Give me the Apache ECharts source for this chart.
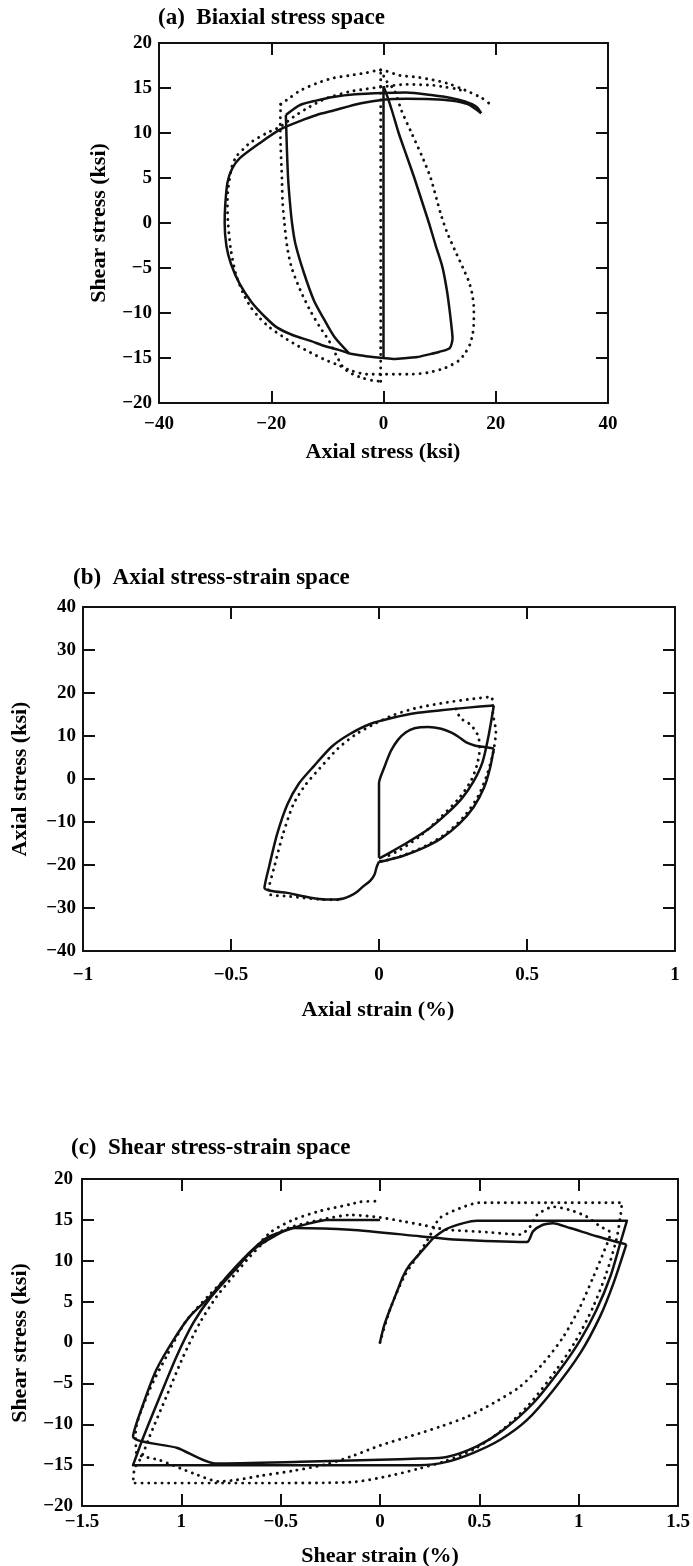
<!DOCTYPE html>
<html>
<head>
<meta charset="utf-8">
<script src="https://cdn.jsdelivr.net/npm/echarts@6/dist/echarts.min.js"></script>
<style>
html,body{margin:0;padding:0;background:#fff;}
#chart{width:693px;height:1566px;}
</style>
</head>
<body>
<div id="chart"></div>
<script>
// ---------- tick labels ----------
const aXTicks = ["\u221240","\u221220","0","20","40"];
const aYTicks = ["\u221220","\u221215","\u221210","\u22125","0","5","10","15","20"];
const bXTicks = ["\u22121","\u22120.5","0","0.5","1"];
const bYTicks = ["\u221240","\u221230","\u221220","\u221210","0","10","20","30","40"];
const cXTicks = ["\u22121.5","1","\u22120.5","0","0.5","1","1.5"];
const cYTicks = ["\u221220","\u221215","\u221210","\u22125","0","5","10","15","20"];

// ---------- (a) biaxial stress space: [axial stress, shear stress] ----------
const aSolidVert = [[0,-15],[0,15.2]];
const aSolidDiag = [[0,15.2],[0.6,14.2],[1.5,12.5],[2.7,10],[4.1,7.5],[5.5,5],[6.8,2.5],[8.1,0],[9.3,-2.5],[10.5,-4.9],[11.3,-7.5],[11.8,-9.8],[12.2,-12],[12.3,-12.8],[11.8,-13.9],[10,-14.3],[8.1,-14.6],[6,-14.9],[4.2,-15],[2,-15.1],[0,-15],[-3.1,-14.8],[-6.1,-14.5]];
const aSolidInner = [[-6.1,-14.5],[-8.7,-12.7],[-10.5,-10.8],[-12.4,-8.6],[-14.2,-5.5],[-15.7,-2.3],[-16.3,0],[-16.7,2.5],[-17,5],[-17.2,8],[-17.3,10],[-17.4,12]];
const aSolidUpper = [[-17.4,12],[-14.9,13.1],[-12,13.6],[-9,14.0],[-5,14.3],[0,14.45],[4,14.5],[8.8,14.2],[12,13.9],[14.5,13.5],[16.6,12.9],[17.4,12.2]];
const aSolidOuter = [[17.4,12.2],[15,13.2],[12,13.6],[8.8,13.75],[4,13.8],[0,13.7],[-4,13.3],[-8.9,12.5],[-11.9,12],[-15,11.3],[-18.4,10.4],[-22,8.9],[-25.6,7.2],[-27,6],[-27.8,4.5],[-28.2,2],[-28.3,0],[-28,-2.5],[-27.2,-4.5],[-25.6,-6.8],[-23.5,-8.8],[-21,-10.5],[-19,-11.6],[-16,-12.5],[-13,-13.1],[-10.4,-13.7],[-8,-14.1],[-6.1,-14.5]];
const aDotVert = [[-0.5,-17.6],[-0.5,17.0]];
const aDotMain = [[-0.5,17.0],[0.5,15.8],[1.9,14.8],[3.2,12.5],[5,10],[6.8,7.5],[8.4,5],[10.2,1],[11.3,-1],[12.7,-3],[14.1,-4.9],[15.2,-6.5],[15.8,-7.9],[16.1,-9.5],[16.1,-10.9],[15.9,-12.3],[15.4,-13.5],[14.5,-14.5],[13.4,-15.3],[11,-16.1],[8.1,-16.6],[5,-16.8],[2.8,-16.8],[0,-16.8],[-3,-16.8],[-5.8,-16.4],[-8,-15.8],[-10.4,-15.2],[-13,-14.4],[-15.7,-13.5],[-18,-12.6],[-20.3,-11.6],[-22,-10.6],[-23.6,-9.4],[-25,-7.8],[-26.3,-5.7],[-27.2,-3],[-27.7,0],[-27.8,2],[-27.7,3.7],[-27,6.3],[-26.2,7.4],[-25,8.2],[-23.8,8.9],[-20.8,10],[-18.4,10.7],[-16,11.8],[-14,12.6],[-12,13.3],[-10,13.9],[-6,14.6],[-3,14.9],[-0.6,15.1],[4.1,15.4],[8.8,15.3],[11,15.1],[13,14.9],[14.5,14.6]];
const aDotOuterTop = [[-18.3,13.2],[-16.5,14.0],[-14.9,14.7],[-12,15.5],[-9,16.1],[-6,16.4],[-3,16.7],[-0.5,17.0],[2.9,16.4],[6,16.2],[8.8,15.9],[11.5,15.5],[13.6,15],[15.5,14.5],[17.5,13.9],[18.8,13.3]];
const aDotInnerLeft = [[-18.3,13.2],[-18.4,10.7],[-18.3,8.1],[-18.1,5],[-18,2.5],[-17.7,0.3],[-17.2,-2.5],[-16.4,-4.9],[-14.8,-7.5],[-13,-9.8],[-11.3,-11.6],[-9.7,-13.1],[-8.5,-14.6],[-7.1,-16.1],[-5.5,-16.8],[-3.8,-17.2],[-2,-17.5],[-0.5,-17.6]];

// ---------- (b) axial stress-strain: [axial strain %, axial stress] ----------
const bSolidInner = [[0,-18.3],[0,-1],[0.019,2.9],[0.04,6.5],[0.064,9.1],[0.09,10.8],[0.12,11.8],[0.166,12.1],[0.21,11.7],[0.245,10.8],[0.267,9.9],[0.295,8.5],[0.323,7.8],[0.35,7.5],[0.388,7.1]];
const bSolidRight = [[0.388,7.1],[0.375,2.5],[0.355,-2],[0.32,-6.5],[0.27,-10.5],[0.21,-13.8],[0.15,-16],[0.08,-17.9],[0.02,-19],[0,-19.2]];
const bSolidMain = [[0,-19.2],[-0.008,-20.5],[-0.015,-22.2],[-0.03,-23.7],[-0.052,-24.9],[-0.075,-26.3],[-0.097,-27.2],[-0.12,-27.8],[-0.142,-28],[-0.18,-28],[-0.231,-27.6],[-0.3,-26.6],[-0.387,-25.3],[-0.37,-20],[-0.345,-13],[-0.31,-6],[-0.27,-1],[-0.22,3],[-0.16,7.5],[-0.1,10.4],[-0.03,12.8],[0.05,14.3],[0.12,15.3],[0.21,16.0],[0.3,16.6],[0.388,17.1]];
const bSolidBack = [[0.388,17.1],[0.37,10],[0.35,4],[0.32,-0.5],[0.28,-4.5],[0.23,-8],[0.17,-11.5],[0.1,-14.6],[0.04,-17],[0,-18.5]];
const bDotMain = [[-0.14,-28.1],[-0.2,-28],[-0.3,-27.3],[-0.375,-26.5],[-0.352,-20],[-0.325,-13],[-0.29,-6],[-0.25,-1.5],[-0.2,2.5],[-0.14,7],[-0.08,10.3],[-0.01,13],[0.05,14.9],[0.12,16.4],[0.21,17.6],[0.3,18.5],[0.38,19.1],[0.385,15],[0.395,11],[0.385,6],[0.365,1],[0.335,-4],[0.29,-8.5],[0.23,-12.5],[0.16,-15.5],[0.08,-17.8],[0.02,-19],[0,-19.3]];
const bDotInner = [[0.26,16.3],[0.276,14.1],[0.31,12.6],[0.335,10],[0.34,7],[0.33,3],[0.31,-0.5],[0.27,-4.5],[0.21,-8.8],[0.14,-13.2],[0.073,-16.4],[0.02,-18.2]];

// ---------- (c) shear stress-strain: [shear strain %, shear stress] ----------
const cSolidPath1 = [[0,0],[0.02,2],[0.051,4.1],[0.085,6.2],[0.118,8.2],[0.15,9.5],[0.2,10.9],[0.24,12],[0.27,12.8],[0.336,13.9],[0.42,14.6],[0.487,14.9],[0.8,14.9],[1.243,14.9],[1.21,12.2],[1.16,8.1],[1.09,4.0],[1.008,0.3],[0.907,-3.3],[0.772,-7.4],[0.62,-10.7],[0.487,-12.7],[0.336,-14.0],[0.2,-14.2],[0,-14.35],[-0.4,-14.6],[-0.83,-14.8],[-1.02,-12.9],[-1.243,-11.5],[-1.19,-7.4],[-1.125,-3.3],[-1.04,0.3],[-0.957,3.2],[-0.856,5.6],[-0.77,8.1],[-0.67,10.7],[-0.57,12.8],[-0.437,14.0],[-0.35,14.6],[-0.27,15.0],[0,15.0]];
const cSolidPath2 = [[1.24,12.0],[1.176,7.3],[1.108,3.2],[1.008,-1.3],[0.873,-5.8],[0.739,-9.5],[0.605,-11.9],[0.47,-13.5],[0.336,-14.6],[0.2,-15.0],[-0.5,-15.0],[-1.243,-15.0],[-1.19,-11.5],[-1.108,-6.6],[-1.024,-1.7],[-0.94,2.4],[-0.856,5.4],[-0.722,9.1],[-0.64,11.3],[-0.54,12.9],[-0.437,14.0],[-0.15,13.8],[0.2,13.0],[0.37,12.6],[0.74,12.3],[0.77,13.6],[0.82,14.4],[0.87,14.6],[0.957,14.0],[1.09,13.0],[1.24,12.0]];
const cDotPath = [[0,0],[0.05,4],[0.12,8],[0.2,11],[0.25,13],[0.3,15.2],[0.4,16.4],[0.5,17.1],[0.8,17.1],[1.218,17.1],[1.21,15.4],[1.19,12.6],[1.14,8.5],[1.07,4.2],[0.985,0.2],[0.88,-3.6],[0.75,-7.6],[0.61,-10.8],[0.47,-13.1],[0.33,-14.5],[0.2,-15.4],[0.05,-16.3],[-0.15,-17.1],[-0.6,-17.2],[-1.243,-17.2],[-1.235,-15.4],[-1.2,-14],[-1.16,-11.5],[-1.075,-6.6],[-0.99,-1.7],[-0.907,2.4],[-0.823,5.6],[-0.739,8.1],[-0.655,10.5],[-0.59,12.1],[-0.5,13.6],[-0.437,14.2],[-0.3,15.0],[-0.15,15.6],[0,15.3],[0.12,14.8],[0.23,14.3],[0.336,13.8],[0.537,13.5],[0.705,13.2],[0.756,14.2],[0.79,15.6],[0.873,16.6],[0.957,16.2],[1.04,15.4],[1.108,14.2],[1.16,13.4],[1.13,11.3],[1.075,8.1],[1.008,4.4],[0.923,0.7],[0.823,-2.5],[0.705,-5.4],[0.571,-7.4],[0.437,-9.1],[0.302,-10.3],[0.2,-11.1],[0,-12.6],[-0.13,-13.8],[-0.27,-14.9],[-0.44,-15.7],[-0.6,-16.3],[-0.72,-16.8],[-0.81,-17.0],[-0.94,-16.0],[-1.108,-14.4],[-1.226,-13.5],[-1.23,-11],[-1.16,-5.8],[-1.075,-1.7],[-0.98,2.5],[-0.86,5.8],[-0.75,8.5],[-0.65,11],[-0.55,13.5],[-0.437,15.0],[-0.3,16.1],[-0.15,16.9],[-0.1,17.2],[0,17.3]];

// ---------- build ----------
const FONT = '"Liberation Serif", "Times New Roman", serif';
const grids = [
  {left:159, width:449, top:43, height:360},
  {left:83, width:592, top:607, height:344},
  {left:82, width:596, top:1179, height:327}
];
const axisDefs = [
  {x:[-40,40,20,aXTicks,12], y:[-20,20,5,aYTicks,7]},
  {x:[-1,1,0.5,bXTicks,15], y:[-40,40,10,bYTicks,7]},
  {x:[-1.5,1.5,0.5,cXTicks,7], y:[-20,20,5,cYTicks,9]}
];
const xAxes = [], yAxes = [];
const lineCol = '#111';
function axisBase(gi, mn, mx, iv, pos, labels, margin){
  return {
    type:'value', gridIndex:gi, min:mn, max:mx, interval:iv, position:pos,
    axisLine:{show:true, onZero:false, lineStyle:{color:lineCol, width:2}},
    axisTick:{show:true, inside:true, length:12, lineStyle:{color:lineCol, width:2}},
    splitLine:{show:false},
    axisLabel:{
      show: !!labels, margin: margin || 8, color:'#000', fontFamily:FONT, fontWeight:'bold', fontSize:19,
      showMinLabel:true, showMaxLabel:true, hideOverlap:false,
      formatter: labels ? (v => labels[Math.round((v - mn) / iv)]) : undefined
    }
  };
}
axisDefs.forEach((d, gi) => {
  xAxes.push(axisBase(gi, d.x[0], d.x[1], d.x[2], 'bottom', d.x[3], d.x[4]));
  xAxes.push(axisBase(gi, d.x[0], d.x[1], d.x[2], 'top', null));
  yAxes.push(axisBase(gi, d.y[0], d.y[1], d.y[2], 'left', d.y[3], d.y[4]));
  yAxes.push(axisBase(gi, d.y[0], d.y[1], d.y[2], 'right', null));
});

function solid(data, gi, smooth){
  return {type:'line', data:data, xAxisIndex:gi*2, yAxisIndex:gi*2, symbol:'none', showSymbol:false,
    smooth: smooth === undefined ? 0.25 : smooth, silent:true, animation:false,
    lineStyle:{color:'#111', width:2.5, join:'round'}};
}
function dotted(data, gi, smooth){
  return {type:'line', data:data, xAxisIndex:gi*2, yAxisIndex:gi*2, symbol:'none', showSymbol:false,
    smooth: smooth === undefined ? 0.25 : smooth, silent:true, animation:false,
    lineStyle:{color:'#111', width:2.9, type:[0.1, 6.6], cap:'round', join:'round'}};
}

const series = [
  solid(aSolidVert,0,false), solid(aSolidDiag,0), solid(aSolidInner,0), solid(aSolidUpper,0), solid(aSolidOuter,0),
  dotted(aDotVert,0,false), dotted(aDotMain,0), dotted(aDotOuterTop,0), dotted(aDotInnerLeft,0),
  solid(bSolidInner,1), solid(bSolidRight,1), solid(bSolidMain,1), solid(bSolidBack,1),
  dotted(bDotMain,1), dotted(bDotInner,1),
  solid(cSolidPath1,2), solid(cSolidPath2,2), dotted(cDotPath,2)
];

function txt(text, x, y, size, opts){
  return Object.assign({type:'text', x:x, y:y, silent:true,
    style:{text:text, fill:'#000', fontFamily:FONT, fontWeight:'bold', fontSize:size,
      align:(opts && opts.align) || 'center', verticalAlign:'middle'}}, opts && opts.rotation ? {rotation:opts.rotation} : {});
}
const graphic = [
  txt('(a)  Biaxial stress space', 158, 18, 23, {align:'left'}),
  txt('Axial stress (ksi)', 383, 452, 22),
  txt('Shear stress (ksi)', 99, 223, 22, {rotation:Math.PI/2}),
  txt('(b)  Axial stress-strain space', 73, 578, 23, {align:'left'}),
  txt('Axial strain (%)', 378, 1010, 22),
  txt('Axial stress (ksi)', 20, 779, 22, {rotation:Math.PI/2}),
  txt('(c)  Shear stress-strain space', 71, 1148, 23, {align:'left'}),
  txt('Shear strain (%)', 380, 1556, 22),
  txt('Shear stress (ksi)', 20, 1343, 22, {rotation:Math.PI/2})
];

const chart = echarts.init(document.getElementById('chart'), null, {renderer:'canvas'});
chart.setOption({
  animation:false,
  backgroundColor:'#fff',
  grid: grids.map(g => Object.assign({containLabel:false, show:false}, g)),
  xAxis: xAxes,
  yAxis: yAxes,
  series: series,
  graphic: graphic
});
</script>
</body>
</html>
